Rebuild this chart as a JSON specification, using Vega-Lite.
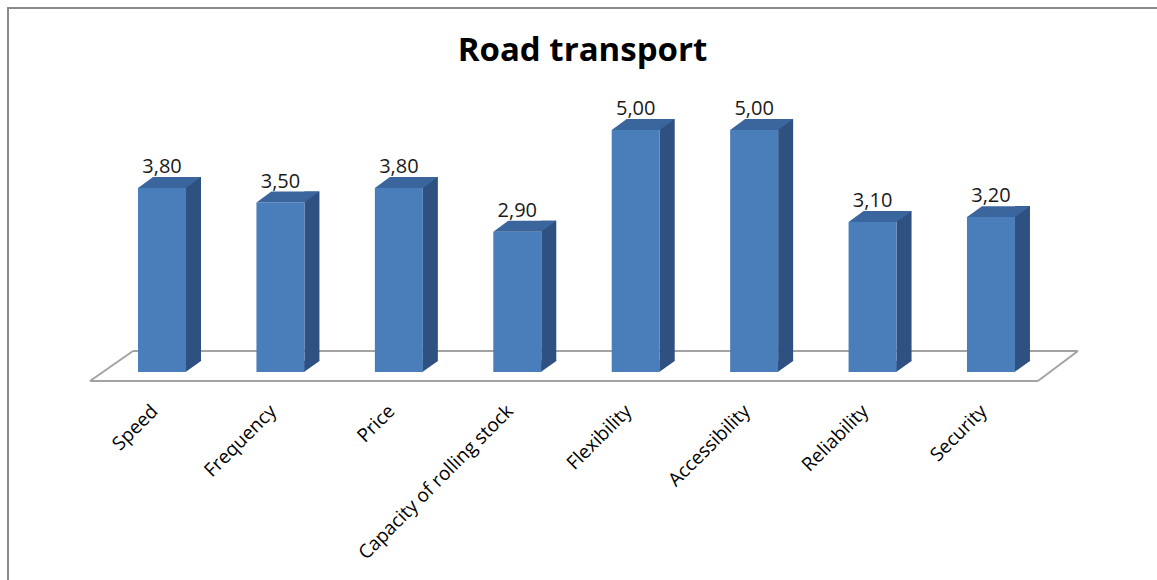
{
  "$schema": "https://vega.github.io/schema/vega-lite/v6.json",
  "width": 1149,
  "height": 572,
  "autosize": {"type": "none"},
  "padding": {"left": 8, "top": 8, "right": 0, "bottom": 0},
  "background": "white",
  "config": {
    "view": {"stroke": "#8a8a8a", "strokeWidth": 2, "strokeDash": [1149, 1721, 572, 10]},
    "font": "Open Sans",
    "locale": {"number": {"decimal": ",", "thousands": " ", "grouping": [3], "currency": ["", ""]}}
  },
  "title": {
    "text": "Road transport",
    "font": "Open Sans",
    "fontSize": 33,
    "fontWeight": "bold",
    "color": "#000000",
    "anchor": "middle",
    "baseline": "alphabetic",
    "offset": -86
  },
  "datasets": {
    "scores": [
      {"criterion": "Speed", "value": 3.8},
      {"criterion": "Frequency", "value": 3.5},
      {"criterion": "Price", "value": 3.8},
      {"criterion": "Capacity of rolling stock", "value": 2.9},
      {"criterion": "Flexibility", "value": 5.0},
      {"criterion": "Accessibility", "value": 5.0},
      {"criterion": "Reliability", "value": 3.1},
      {"criterion": "Security", "value": 3.2}
    ]
  },
  "layer": [
    {
      "data": {"values": [{}]},
      "encoding": {
        "x": {"type": "quantitative", "scale": {"domain": [-0.8005, 8.9018], "nice": false, "zero": false}, "axis": null},
        "y": {"type": "quantitative", "scale": {"domain": [-4.2975, 7.5207], "nice": false, "zero": false}, "axis": null}
      },
      "layer": [
        {"mark": {"type": "rule", "color": "#a3a3a3", "strokeWidth": 2},
         "encoding": {"x": {"datum": -0.1081}, "x2": {"datum": 7.8964}, "y": {"datum": -0.186}, "y2": {"datum": -0.186}}},
        {"mark": {"type": "rule", "color": "#a3a3a3", "strokeWidth": 2},
         "encoding": {"x": {"datum": 0.255}, "x2": {"datum": 8.2342}, "y": {"datum": 0.434}, "y2": {"datum": 0.434}}},
        {"mark": {"type": "rule", "color": "#a3a3a3", "strokeWidth": 2},
         "encoding": {"x": {"datum": -0.1081}, "x2": {"datum": 0.255}, "y": {"datum": -0.186}, "y2": {"datum": 0.434}}},
        {"mark": {"type": "rule", "color": "#a3a3a3", "strokeWidth": 2},
         "encoding": {"x": {"datum": 7.8964}, "x2": {"datum": 8.2342}, "y": {"datum": -0.186}, "y2": {"datum": 0.434}}}
      ]
    },
    {
      "data": {"name": "scores"},
      "encoding": {
        "x": {
          "field": "criterion",
          "type": "nominal",
          "sort": null,
          "scale": {"range": [94.8, 1042.2], "paddingInner": 0.595, "paddingOuter": 0.2975},
          "axis": {
            "title": null,
            "domain": false,
            "ticks": false,
            "tickSize": 0,
            "grid": false,
            "labelAngle": -45,
            "labelAlign": "right",
            "labelBaseline": "alphabetic",
            "labelPadding": 0,
            "labelOffset": -3,
            "offset": -168,
            "labelFont": "Open Sans",
            "labelFontSize": 19,
            "labelColor": "#000000",
            "labelOverlap": false,
            "labelLimit": 0
          }
        }
      },
      "layer": [
        {
          "mark": {"type": "bar", "width": 15, "xOffset": 31.5, "yOffset": -11, "y2Offset": -11, "color": "#2f5182"},
          "encoding": {
            "y": {"field": "value", "type": "quantitative", "scale": {"domain": [-4.2975, 7.5207], "nice": false, "zero": false}, "axis": null},
            "y2": {"datum": 0}
          }
        },
        {
          "mark": {"type": "point", "shape": "M 0.98 0 L 0.98 -0.47 L 1.64 -0.47 Z", "size": 2304, "filled": true, "opacity": 1, "color": "#2f5182", "strokeWidth": 0},
          "encoding": {"y": {"datum": 0, "type": "quantitative"}}
        },
        {
          "mark": {"type": "bar", "width": 48, "color": "#4a7ebb"},
          "encoding": {
            "y": {"field": "value", "type": "quantitative"},
            "y2": {"datum": 0}
          }
        },
        {
          "mark": {"type": "point", "shape": "M -1 0 L 1 0 L 1.625 -0.458 L -0.375 -0.458 Z", "size": 2304, "filled": true, "opacity": 1, "color": "#3b659d", "strokeWidth": 0},
          "encoding": {"y": {"field": "value", "type": "quantitative"}}
        },
        {
          "mark": {"type": "text", "baseline": "alphabetic", "align": "center", "dy": -15, "font": "Open Sans", "fontSize": 20, "color": "#1a1a1a"},
          "encoding": {
            "y": {"field": "value", "type": "quantitative"},
            "text": {"field": "value", "type": "quantitative", "format": ".2f"}
          }
        }
      ]
    }
  ],
  "resolve": {"scale": {"x": "independent"}}
}
